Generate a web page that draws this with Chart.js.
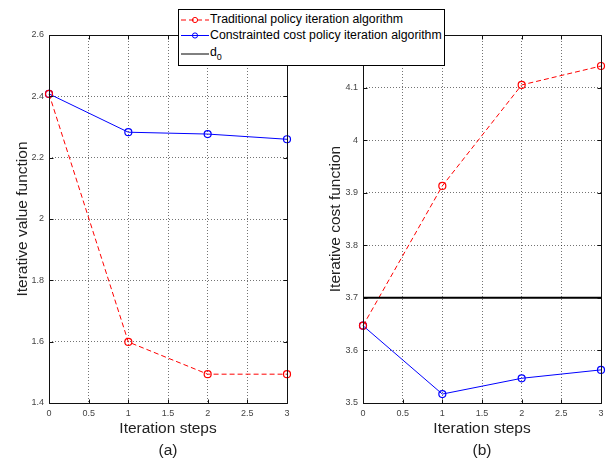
<!DOCTYPE html>
<html>
<head>
<meta charset="utf-8">
<script src="https://cdn.jsdelivr.net/npm/chart.js@4.4.1/dist/chart.umd.min.js"></script>
<style>
body { margin: 0; background: #fff; }
#wrap { position: relative; width: 616px; height: 462px; font-family: 'Liberation Sans', Arial, sans-serif; }
#c1 { position: absolute; left: 0; top: 0; }
#c2 { position: absolute; left: 308px; top: 0; }
#legend { position: absolute; left: 178px; top: 9px; width: 267px; height: 57px; box-sizing: border-box;
          border: 1px solid #000; background: #fff; font-size: 12.3px; color: #000; }
#legend span { position: absolute; left: 31px; line-height: 14px; white-space: nowrap; }
#legend svg { position: absolute; left: 0; top: 0; }
sub { font-size: 9px; vertical-align: -4px; line-height: 0; }
</style>
</head>
<body>
<div id="wrap">
  <canvas id="c1" width="308" height="462"></canvas>
  <canvas id="c2" width="308" height="462"></canvas>
  <div id="legend">
    <svg width="32" height="55">
      <line x1="2" y1="10" x2="30" y2="10" stroke="#ff0000" stroke-width="1" stroke-dasharray="5,3"/>
      <circle cx="16" cy="10" r="2.6" fill="none" stroke="#ff0000" stroke-width="1"/>
      <line x1="2" y1="25.5" x2="30" y2="25.5" stroke="#0000ff" stroke-width="1"/>
      <circle cx="16" cy="25.5" r="2.6" fill="none" stroke="#0000ff" stroke-width="1"/>
      <line x1="2" y1="44" x2="30" y2="44" stroke="#000" stroke-width="1"/>
    </svg>
    <span style="top:2px">Traditional policy iteration algorithm</span>
    <span style="top:18px">Constrainted cost policy iteration algorithm</span>
    <span style="top:35px">d<sub>0</sub></span>
  </div>
</div>
<script>
// iteration steps on the x axis
var steps = [0, 1, 2, 3];

// (a) iterative value function
var valueTraditional = [2.408, 1.599, 1.494, 1.494];
var valueConstrained = [2.408, 2.283, 2.277, 2.260];

// (b) iterative cost function
var costTraditional = [3.647, 3.913, 4.105, 4.141];
var costConstrained = [3.647, 3.517, 3.547, 3.563];
var d0 = 3.7;

// axis ranges
var xRange = [0, 3, 0.5];
var valueRange = [1.4, 2.6, 0.2];
var costRange = [3.5, 4.2, 0.1];

Chart.defaults.font.family = "'Liberation Sans', Arial, sans-serif";
Chart.defaults.animation = false;

function pts(ys) {
    return steps.map(function (x, i) { return { x: x, y: ys[i] }; });
}

// matlab style: no trailing zeros
function fmt(v) { return String(+v.toFixed(2)); }

// matlab style box with inward ticks
var boxPlugin = {
    id: 'box',
    afterDraw: function (chart) {
        var ctx = chart.ctx, a = chart.chartArea, sx = chart.scales.x, sy = chart.scales.y;
        var l = Math.round(a.left) + 0.5, t = Math.round(a.top) + 0.5;
        var r = Math.round(a.right) + 0.5, b = Math.round(a.bottom) + 0.5;
        ctx.save();
        ctx.strokeStyle = '#111';
        ctx.lineWidth = 1;
        ctx.beginPath();
        ctx.rect(l, t, r - l, b - t);
        sx.ticks.forEach(function (tk) {
            var p = Math.round(sx.getPixelForValue(tk.value)) + 0.5;
            ctx.moveTo(p, b); ctx.lineTo(p, b - 4);
            ctx.moveTo(p, t); ctx.lineTo(p, t + 4);
        });
        sy.ticks.forEach(function (tk) {
            var p = Math.round(sy.getPixelForValue(tk.value)) + 0.5;
            ctx.moveTo(l, p); ctx.lineTo(l + 4, p);
            ctx.moveTo(r, p); ctx.lineTo(r - 4, p);
        });
        ctx.stroke();
        ctx.restore();
    }
};

function redSet(label, ys) {
    return {
        label: label, data: pts(ys), borderColor: '#ff0000', backgroundColor: 'transparent',
        borderWidth: 1, borderDash: [5, 3], pointStyle: 'circle', pointRadius: 3.5,
        pointBorderWidth: 1.2, pointBorderColor: '#ff0000', pointBackgroundColor: 'transparent', clip: false
    };
}
function blueSet(label, ys) {
    return {
        label: label, data: pts(ys), borderColor: '#0000ff', backgroundColor: 'transparent',
        borderWidth: 1, pointStyle: 'circle', pointRadius: 3.5,
        pointBorderWidth: 1.2, pointBorderColor: '#0000ff', pointBackgroundColor: 'transparent', clip: false
    };
}

function makeOptions(yr, yTitle, sub, yWidth, yTitlePad, padRight) {
    var grid = { color: 'rgba(0,0,0,0.55)', lineWidth: 1, drawTicks: false };
    var tickFont = { size: 9 };
    return {
        responsive: false,
        layout: { padding: { top: 35, right: padRight, bottom: 0, left: 0 } },
        plugins: { legend: { display: false }, tooltip: { enabled: false } },
        scales: {
            x: {
                type: 'linear', min: xRange[0], max: xRange[1],
                ticks: { stepSize: xRange[2], color: '#444', font: tickFont, padding: 5, callback: fmt },
                grid: grid, border: { display: false, dash: [1, 2] },
                title: { display: true, text: ['Iteration steps', sub], color: '#222',
                         font: { size: 15.5, lineHeight: 1.45 }, padding: { top: 0, bottom: 0 } },
                afterFit: function (s) { s.height = 59; }
            },
            y: {
                type: 'linear', min: yr[0], max: yr[1],
                ticks: { stepSize: yr[2], color: '#444', font: tickFont, padding: 5, callback: fmt },
                grid: grid, border: { display: false, dash: [1, 2] },
                title: { display: true, text: yTitle, color: '#222',
                         font: { size: 15.5, lineHeight: 1.45 }, padding: { top: yTitlePad, bottom: 0 } },
                afterFit: function (s) { s.width = yWidth; }
            }
        }
    };
}

new Chart(document.getElementById('c1'), {
    type: 'line',
    data: {
        datasets: [
            redSet('Traditional policy iteration algorithm', valueTraditional),
            blueSet('Constrainted cost policy iteration algorithm', valueConstrained)
        ]
    },
    options: makeOptions(valueRange, 'Iterative value function', '(a)', 49, 11, 21),
    plugins: [boxPlugin]
});

new Chart(document.getElementById('c2'), {
    type: 'line',
    data: {
        datasets: [
            {
                label: 'd0', data: [{ x: xRange[0], y: d0 }, { x: xRange[1], y: d0 }],
                borderColor: '#000', borderWidth: 2, pointRadius: 0, clip: false
            },
            redSet('Traditional policy iteration algorithm', costTraditional),
            blueSet('Constrainted cost policy iteration algorithm', costConstrained)
        ]
    },
    options: makeOptions(costRange, 'Iterative cost function', '(b)', 55, 16, 15),
    plugins: [boxPlugin]
});
</script>
</body>
</html>
